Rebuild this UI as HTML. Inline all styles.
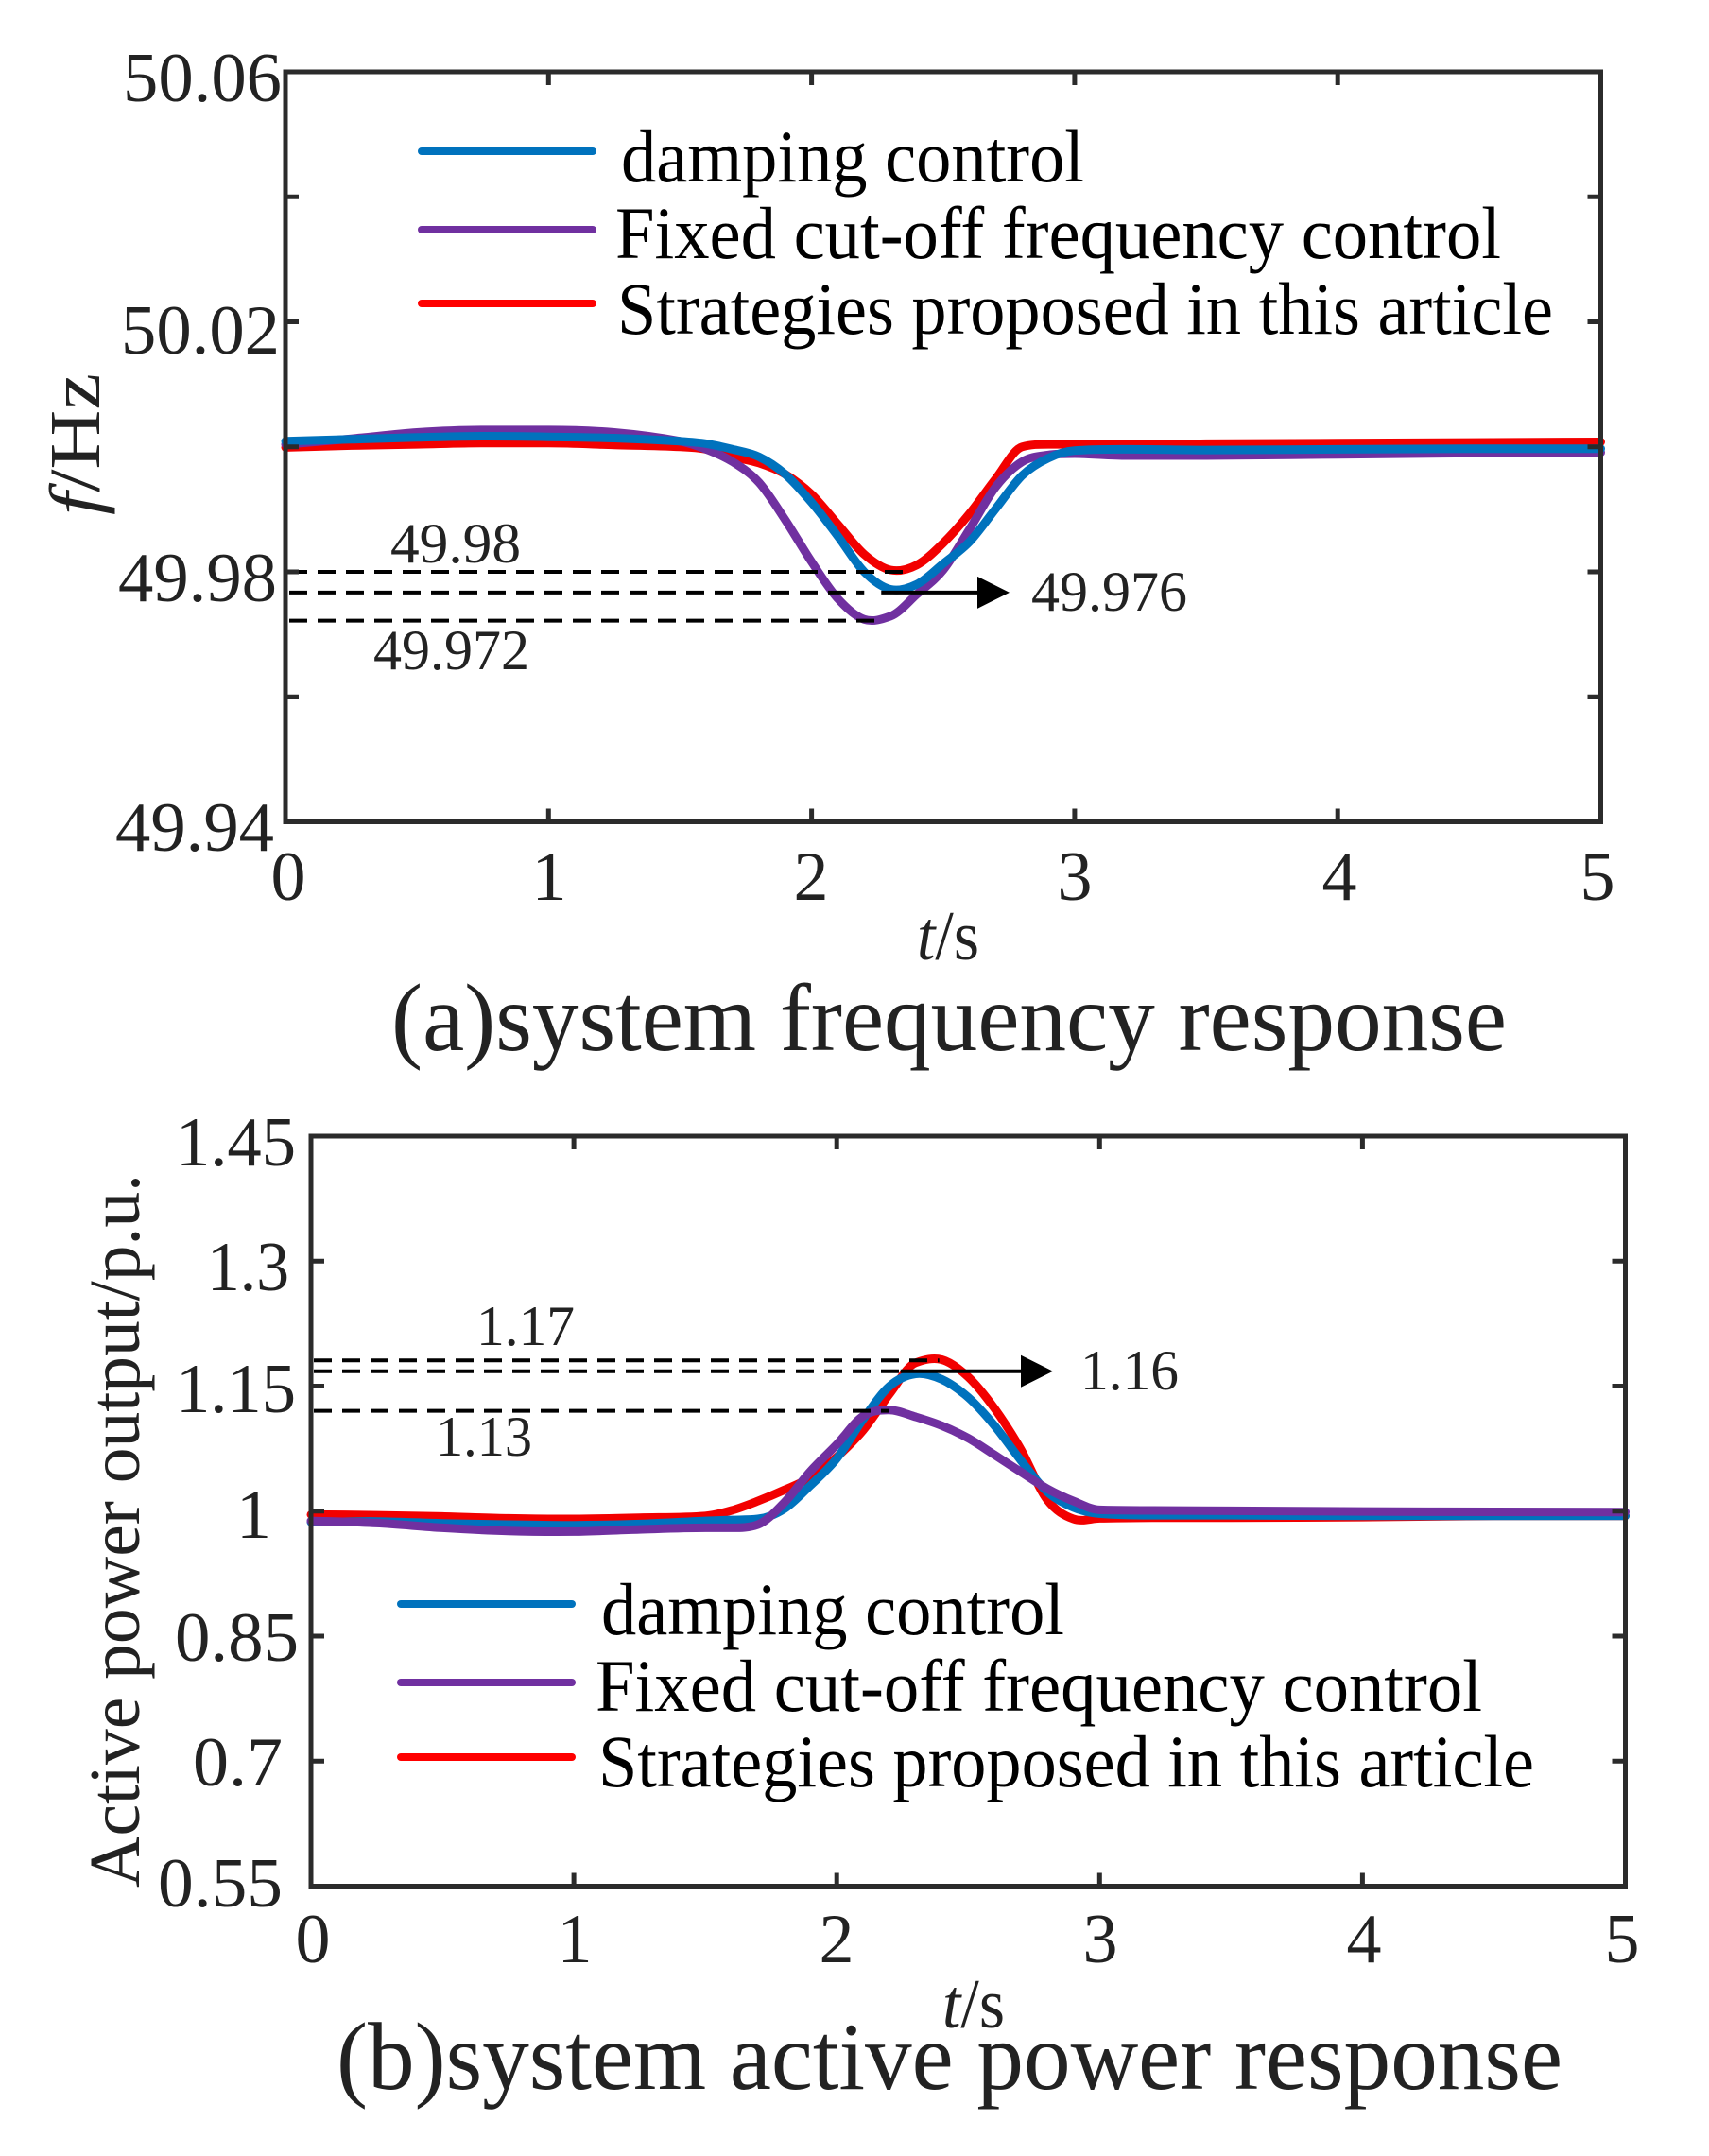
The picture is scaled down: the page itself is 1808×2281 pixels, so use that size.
<!DOCTYPE html>
<html lang="en">
<head>
<meta charset="utf-8">
<title>System frequency and active power response</title>
<style>
html,body{margin:0;padding:0;background:#fff;width:1808px;height:2281px;overflow:hidden}
svg{display:block}
text{font-family:"Liberation Serif",serif;fill:#222}
.leg{fill:#000}
</style>
</head>
<body>
<svg id="fig" xmlns="http://www.w3.org/2000/svg" width="1808" height="2281" viewBox="0 0 1808 2281">
  <rect width="1808" height="2281" fill="#fff"/>
  <g id="panelA">
    <g id="marksA"></g>
    <rect x="302" y="76" width="1391.5" height="793.5" fill="none" stroke="#2b2b2b" stroke-width="5"/>
    <g id="ticksA"></g>
    <g>
      <line x1="446" x2="627" y1="160" y2="160" stroke="#0072BD" stroke-width="8" stroke-linecap="round"/>
      <line x1="446" x2="627" y1="243" y2="243" stroke="#7030A0" stroke-width="8" stroke-linecap="round"/>
      <line x1="446" x2="627" y1="321" y2="321" stroke="#FF0000" stroke-width="8" stroke-linecap="round"/>
      <text class="leg" x="657" y="192" font-size="78" textLength="490" lengthAdjust="spacingAndGlyphs">damping control</text>
      <text class="leg" x="651" y="273" font-size="78" textLength="937" lengthAdjust="spacingAndGlyphs">Fixed cut-off frequency control</text>
      <text class="leg" x="653" y="353" font-size="78" textLength="990" lengthAdjust="spacingAndGlyphs">Strategies proposed in this article</text>
    </g>
    <text x="413" y="595" font-size="60" textLength="138" lengthAdjust="spacingAndGlyphs">49.98</text>
    <text x="1091" y="646" font-size="60" textLength="165" lengthAdjust="spacingAndGlyphs">49.976</text>
    <text x="395" y="708" font-size="60" textLength="165" lengthAdjust="spacingAndGlyphs">49.972</text>
    <text transform="translate(105,545) rotate(-90)" font-size="76" textLength="150" lengthAdjust="spacingAndGlyphs"><tspan font-style="italic">f</tspan>/Hz</text>
    <text x="970" y="1015" font-size="74" textLength="66" lengthAdjust="spacingAndGlyphs"><tspan font-style="italic">t</tspan>/s</text>
    <text x="414" y="1111" font-size="102" textLength="1180" lengthAdjust="spacingAndGlyphs">(a)system frequency response</text>
  </g>
  <g id="panelB">
    <g id="marksB"></g>
    <rect x="329" y="1202" width="1390.5" height="793.5" fill="none" stroke="#2b2b2b" stroke-width="5"/>
    <g id="ticksB"></g>
    <g>
      <line x1="424" x2="605" y1="1697" y2="1697" stroke="#0072BD" stroke-width="8" stroke-linecap="round"/>
      <line x1="424" x2="605" y1="1780" y2="1780" stroke="#7030A0" stroke-width="8" stroke-linecap="round"/>
      <line x1="424" x2="605" y1="1859" y2="1859" stroke="#FF0000" stroke-width="8" stroke-linecap="round"/>
      <text class="leg" x="636" y="1729" font-size="78" textLength="490" lengthAdjust="spacingAndGlyphs">damping control</text>
      <text class="leg" x="630" y="1810" font-size="78" textLength="938" lengthAdjust="spacingAndGlyphs">Fixed cut-off frequency control</text>
      <text class="leg" x="633" y="1890" font-size="78" textLength="990" lengthAdjust="spacingAndGlyphs">Strategies proposed in this article</text>
    </g>
    <text x="504" y="1423" font-size="60" textLength="104" lengthAdjust="spacingAndGlyphs">1.17</text>
    <text x="1143" y="1470" font-size="60" textLength="104" lengthAdjust="spacingAndGlyphs">1.16</text>
    <text x="461" y="1540" font-size="60" textLength="102" lengthAdjust="spacingAndGlyphs">1.13</text>
    <text transform="translate(147,1997) rotate(-90)" font-size="76" textLength="755" lengthAdjust="spacingAndGlyphs">Active power output/p.u.</text>
    <text x="997" y="2145" font-size="74" textLength="66" lengthAdjust="spacingAndGlyphs"><tspan font-style="italic">t</tspan>/s</text>
    <text x="356" y="2210" font-size="102" textLength="1297" lengthAdjust="spacingAndGlyphs">(b)system active power response</text>
  </g>
</svg>
<script>
const timePoints = [0,0.25,0.5,0.75,1,1.25,1.5,1.6,1.7,1.8,1.9,2.0,2.1,2.2,2.3,2.4,2.5,2.6,2.7,2.8,2.9,3.0,3.2,3.5,4,4.5,5];

const freqDamping = [50.0009,50.0012,50.0015,50.0017,50.0016,50.0014,50.0009,50.0005,49.9996,49.9984,49.9956,49.9911,49.9857,49.9800,49.9772,49.9780,49.9813,49.9848,49.9901,49.9954,49.9982,49.9994,49.9996,49.9995,49.9996,49.9997,49.9997];
const freqFixed = [50.0004,50.0013,50.0023,50.0027,50.0027,50.0023,50.0009,49.9996,49.9976,49.9943,49.9883,49.9816,49.9757,49.9724,49.9729,49.9764,49.9803,49.9868,49.9936,49.9976,49.9987,49.9989,49.9986,49.9986,49.9988,49.9990,49.9991];
const freqProposed = [49.9999,50.0002,50.0004,50.0006,50.0006,50.0003,50.0000,49.9996,49.9984,49.9974,49.9956,49.9924,49.9876,49.9828,49.9803,49.9811,49.9846,49.9893,49.9949,50.0000,50.0004,50.0004,50.0004,50.0005,50.0006,50.0007,50.0008];

const powerDamping = [0.9868,0.9876,0.9853,0.9838,0.9830,0.9845,0.9883,0.9894,0.9906,1.0026,1.0309,1.0630,1.1101,1.1497,1.1648,1.1580,1.1365,1.1026,1.0611,1.0234,1.0045,0.9970,0.9951,0.9951,0.9943,0.9943,0.9943];
const powerFixed = [0.9883,0.9857,0.9800,0.9762,0.9755,0.9781,0.9800,0.9800,0.9838,1.0102,1.0479,1.0799,1.1139,1.1214,1.1131,1.1025,1.0875,1.0675,1.0471,1.0271,1.0121,1.0015,1.0008,1.0004,0.9996,0.9992,0.9989];
const powerProposed = [0.9959,0.9951,0.9936,0.9913,0.9906,0.9921,0.9943,1.0008,1.0121,1.0253,1.0403,1.0648,1.0969,1.1402,1.1780,1.1818,1.1610,1.1233,1.0743,1.0139,0.9906,0.9913,0.9921,0.9921,0.9928,0.9943,0.9943];

const xTickValues = [0,1,2,3,4,5];
const xTickLabels = ["0","1","2","3","4","5"];
const freqTickValues = [50.06,50.04,50.02,50.00,49.98,49.96,49.94];
const freqTickLabels = ["50.06","","50.02","","49.98","","49.94"];
const powerTickValues = [1.45,1.3,1.15,1,0.85,0.7,0.55];
const powerTickLabels = ["1.45","1.3","1.15","1","0.85","0.7","0.55"];

const freqGuideValues = [49.98,49.9767,49.9722];
const freqGuideEndTimes = [2.35,2.2,2.25];
const powerGuideValues = [1.1809,1.1679,1.1203];
const powerGuideEndTimes = [2.39,2.25,2.2];

const NS = "http://www.w3.org/2000/svg";
const blue = "#0072BD", purple = "#7030A0", red = "#F20000";

function scale(d0, d1, r0, r1) { return v => r0 + (v - d0) * (r1 - r0) / (d1 - d0); }
const xA = scale(0, 5, 302, 1693.5);
const yA = scale(50.06, 49.94, 76, 869.5);
const xB = scale(0, 5, 329, 1719.5);
const yB = scale(1.45, 0.55, 1202, 1995.5);

function smoothPath(xs, ys) {
  const n = xs.length;
  const seg = [];
  for (let i = 0; i < n - 1; i++) seg.push((ys[i + 1] - ys[i]) / (xs[i + 1] - xs[i]));
  const slope = [seg[0]];
  for (let i = 1; i < n - 1; i++) {
    const a = seg[i - 1], b = seg[i];
    let m = (ys[i + 1] - ys[i - 1]) / (xs[i + 1] - xs[i - 1]);
    if (a * b === 0) m = 0;
    else if (a * b > 0) {
      const cap = 3 * Math.min(Math.abs(a), Math.abs(b));
      if (Math.abs(m) > cap) m = Math.sign(m) * cap;
    }
    slope.push(m);
  }
  slope.push(seg[n - 2]);
  let d = "M" + xs[0].toFixed(1) + " " + ys[0].toFixed(1);
  for (let i = 0; i < n - 1; i++) {
    const h = (xs[i + 1] - xs[i]) / 3;
    d += "C" + (xs[i] + h).toFixed(1) + " " + (ys[i] + slope[i] * h).toFixed(1) + " " +
      (xs[i + 1] - h).toFixed(1) + " " + (ys[i + 1] - slope[i + 1] * h).toFixed(1) + " " +
      xs[i + 1].toFixed(1) + " " + ys[i + 1].toFixed(1);
  }
  return d;
}

function drawSeries(parent, values, xf, yf, color, name) {
  const el = document.createElementNS(NS, "path");
  el.setAttribute("d", smoothPath(timePoints.map(xf), values.map(yf)));
  el.setAttribute("fill", "none");
  el.setAttribute("stroke", color);
  el.setAttribute("stroke-width", "9");
  el.setAttribute("stroke-linejoin", "round");
  el.setAttribute("stroke-linecap", "round");
  
  
  parent.appendChild(el);
}

function drawGuide(parent, value, endTime, xf, yf, startX, name) {
  const el = document.createElementNS(NS, "line");
  el.setAttribute("x1", startX);
  el.setAttribute("x2", xf(endTime));
  el.setAttribute("y1", yf(value));
  el.setAttribute("y2", yf(value));
  el.setAttribute("stroke", "#000");
  el.setAttribute("stroke-width", "4");
  el.setAttribute("stroke-dasharray", "19 11");
  
  
  parent.appendChild(el);
}

function drawArrow(parent, y, x1, x2, name) {
  const shaft = document.createElementNS(NS, "line");
  shaft.setAttribute("x1", x1);
  shaft.setAttribute("x2", x2 - 30);
  shaft.setAttribute("y1", y);
  shaft.setAttribute("y2", y);
  shaft.setAttribute("stroke", "#000");
  shaft.setAttribute("stroke-width", "4");
  
  
  parent.appendChild(shaft);
  const head = document.createElementNS(NS, "polygon");
  head.setAttribute("points", (x2 - 34) + "," + (y - 17) + " " + x2 + "," + y + " " + (x2 - 34) + "," + (y + 17));
  head.setAttribute("fill", "#000");
  
  
  parent.appendChild(head);
}

function drawTicks(parent, xf, yf, yVals, top, bottom, left, right) {
  const addTick = (x1, y1, x2, y2, nm) => {
    const l = document.createElementNS(NS, "line");
    l.setAttribute("x1", x1);
    l.setAttribute("y1", y1);
    l.setAttribute("x2", x2);
    l.setAttribute("y2", y2);
    l.setAttribute("stroke", "#2b2b2b");
    l.setAttribute("stroke-width", "5");
    
    
    parent.appendChild(l);
  };
  xTickValues.forEach(v => {
    addTick(xf(v), bottom, xf(v), bottom - 14, "x-tick");
    addTick(xf(v), top, xf(v), top + 14, "x-tick");
  });
  yVals.forEach(v => {
    addTick(left, yf(v), left + 14, yf(v), "y-tick");
    addTick(right, yf(v), right - 14, yf(v), "y-tick");
  });
}

function addLabel(parent, str, x, y, anchor, len, name) {
  const t = document.createElementNS(NS, "text");
  t.textContent = str;
  t.setAttribute("x", x);
  t.setAttribute("y", y);
  t.setAttribute("font-size", "74");
  t.setAttribute("text-anchor", anchor);
  if (len) {
    t.setAttribute("textLength", len);
    t.setAttribute("lengthAdjust", "spacingAndGlyphs");
  }
  
  
  parent.appendChild(t);
}

/* Panel A */
const marksA = document.getElementById("marksA");
const ticksA = document.getElementById("ticksA");
drawSeries(marksA, freqProposed, xA, yA, red, "series-proposed-frequency");
drawSeries(marksA, freqFixed, xA, yA, purple, "series-fixed-frequency");
drawSeries(marksA, freqDamping, xA, yA, blue, "series-damping-frequency");
freqGuideValues.forEach((v, i) => {
  drawGuide(marksA, v, freqGuideEndTimes[i], xA, yA, 306, "frequency-guide-line");
});
drawArrow(marksA, yA(freqGuideValues[1]), xA(freqGuideEndTimes[1]) + 18, 1068, "frequency-arrow");
drawTicks(ticksA, xA, yA, freqTickValues, 76, 869.5, 302, 1693.5);
const freqTickX = [130, 0, 128, 0, 125, 0, 122];
const freqTickBase = [107, 0, 374, 0, 636, 0, 900];
freqTickLabels.forEach((s, i) => {
  if (s) addLabel(ticksA, s, freqTickX[i], freqTickBase[i], "start", 168, "y-tick-label");
});
const xLabelsA = [305, 581, 858, 1137, 1417, 1690];
xTickLabels.forEach((s, i) => {
  addLabel(ticksA, s, xLabelsA[i], 952, "middle", 0, "x-tick-label");
});

/* Panel B */
const marksB = document.getElementById("marksB");
const ticksB = document.getElementById("ticksB");
drawSeries(marksB, powerProposed, xB, yB, red, "series-proposed-power");
drawSeries(marksB, powerDamping, xB, yB, blue, "series-damping-power");
drawSeries(marksB, powerFixed, xB, yB, purple, "series-fixed-power");
powerGuideValues.forEach((v, i) => {
  drawGuide(marksB, v, powerGuideEndTimes[i], xB, yB, 332, "power-guide-line");
});
drawArrow(marksB, yB(powerGuideValues[1]), xB(powerGuideEndTimes[1]) - 2, 1114, "power-arrow");
drawTicks(ticksB, xB, yB, powerTickValues, 1202, 1995.5, 329, 1719.5);
const powerTickX = [186, 219, 186, 250, 185, 204, 167];
const powerTickBase = [1233, 1365, 1494, 1627, 1757, 1889, 2017];
const powerTickLen = [127, 87, 127, 0, 131, 95, 132];
powerTickLabels.forEach((s, i) => {
  addLabel(ticksB, s, powerTickX[i], powerTickBase[i], "start", powerTickLen[i], "y-tick-label");
});
const xLabelsB = [331, 608, 885, 1164, 1443, 1716];
xTickLabels.forEach((s, i) => {
  addLabel(ticksB, s, xLabelsB[i], 2076, "middle", 0, "x-tick-label");
});
</script>
</body>
</html>
